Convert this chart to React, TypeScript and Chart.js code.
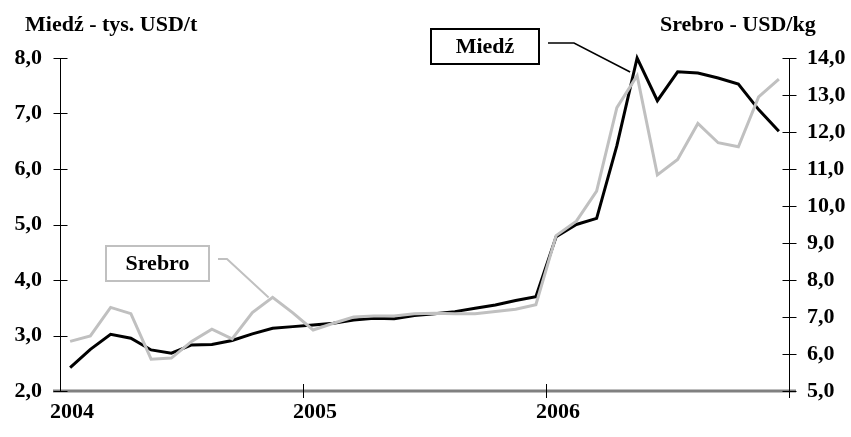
import React, { useEffect, useRef } from 'react';
import { Chart, registerables } from 'chart.js';

Chart.register(...registerables);

const FONT = '"Liberation Serif", "Times New Roman", Times, serif';

// monthly data Jan 2004 .. Dec 2006
const startYear = 2004;
const monthCount = 36;
const copper = [
  2.42, 2.75, 3.02, 2.95, 2.74, 2.68, 2.83, 2.84, 2.91, 3.03, 3.13, 3.16,
  3.19, 3.22, 3.28, 3.31, 3.30, 3.36, 3.39, 3.43, 3.49, 3.55, 3.63, 3.70,
  4.78, 5.00, 5.11, 6.42, 8.0, 7.23, 7.75, 7.73, 7.64, 7.53, 7.07, 6.68,
];
const silver = [
  6.34, 6.49, 7.26, 7.09, 5.86, 5.89, 6.34, 6.67, 6.41, 7.12, 7.53, 7.11,
  6.65, 6.83, 7.00, 7.03, 7.03, 7.09, 7.10, 7.09, 7.09, 7.15, 7.21, 7.33,
  9.20, 9.59, 10.40, 12.66, 13.52, 10.84, 11.26, 12.23, 11.71, 11.60, 12.95, 13.43,
];
const leftTitle = 'Miedź - tys. USD/t';
const rightTitle = 'Srebro - USD/kg';
const copperName = 'Miedź';
const silverName = 'Srebro';

const fmt = (v: number) => Number(v).toFixed(1).replace('.', ',');

const decorPlugin = {
  id: 'decor',
  beforeDatasetsDraw(chart: any) {
    const { ctx, chartArea: ca, scales } = chart;
    const xs = scales.x, yl = scales.y, yr = scales.y1;
    ctx.save();
    // x axis line
    ctx.strokeStyle = '#808080';
    ctx.lineWidth = 3;
    ctx.beginPath();
    ctx.moveTo(ca.left - 7, ca.bottom);
    ctx.lineTo(ca.right + 7, ca.bottom);
    ctx.stroke();
    // y axes
    ctx.strokeStyle = '#000';
    ctx.lineWidth = 1;
    const lx = Math.round(ca.left) + 0.5;
    const rx = Math.round(ca.right) + 0.5;
    ctx.beginPath();
    ctx.moveTo(lx, ca.top);
    ctx.lineTo(lx, ca.bottom + 1);
    ctx.moveTo(rx, ca.top);
    ctx.lineTo(rx, ca.bottom + 7);
    for (let v = 2; v <= 8; v++) {
      const y = Math.round(yl.getPixelForValue(v)) + 0.5;
      ctx.moveTo(lx - 7, y);
      ctx.lineTo(lx + 7, y);
    }
    for (let v = 5; v <= 14; v++) {
      const y = Math.round(yr.getPixelForValue(v)) + 0.5;
      ctx.moveTo(rx - 7, y);
      ctx.lineTo(rx + 7, y);
    }
    for (let m = 12; m < monthCount; m += 12) {
      const x = Math.round(xs.getPixelForValue(m)) + 0.5;
      ctx.moveTo(x, ca.bottom - 7);
      ctx.lineTo(x, ca.bottom + 7);
    }
    ctx.stroke();
    ctx.restore();
  },
  afterDraw(chart: any) {
    const { ctx, scales } = chart;
    const xs = scales.x, yl = scales.y, yr = scales.y1;
    ctx.save();
    ctx.font = `bold 22px ${FONT}`;
    ctx.fillStyle = '#000';
    ctx.textBaseline = 'alphabetic';
    ctx.textAlign = 'left';
    ctx.fillText(leftTitle, 25, 31);
    ctx.fillText(rightTitle, 660, 31);

    // copper legend box + callout
    const cpk = 28; // peak month index
    const cEndX = xs.getPixelForValue(cpk + 0.5) - 7;
    const cEndY = yl.getPixelForValue(copper[cpk]) + 14;
    const cb = { x: 431, y: 29, w: 108, h: 35 };
    ctx.fillStyle = '#fff';
    ctx.fillRect(cb.x, cb.y, cb.w, cb.h);
    ctx.strokeStyle = '#000';
    ctx.lineWidth = 2;
    ctx.strokeRect(cb.x, cb.y, cb.w, cb.h);
    ctx.fillStyle = '#000';
    ctx.textAlign = 'center';
    ctx.textBaseline = 'middle';
    ctx.fillText(copperName, cb.x + cb.w / 2, cb.y + cb.h / 2 + 1);
    ctx.lineWidth = 1.5;
    ctx.beginPath();
    ctx.moveTo(cb.x + cb.w + 9, cb.y + 14);
    ctx.lineTo(cb.x + cb.w + 35, cb.y + 14);
    ctx.lineTo(cEndX, cEndY);
    ctx.stroke();

    // silver legend box + callout
    const spk = 10;
    const sEndX = xs.getPixelForValue(spk + 0.5) - 4;
    const sEndY = yr.getPixelForValue(silver[spk]);
    const sb = { x: 106, y: 246, w: 103, h: 35 };
    ctx.fillStyle = '#fff';
    ctx.fillRect(sb.x, sb.y, sb.w, sb.h);
    ctx.strokeStyle = '#c0c0c0';
    ctx.lineWidth = 2;
    ctx.strokeRect(sb.x, sb.y, sb.w, sb.h);
    ctx.fillStyle = '#000';
    ctx.fillText(silverName, sb.x + sb.w / 2, sb.y + sb.h / 2 + 1);
    ctx.lineWidth = 2;
    ctx.beginPath();
    ctx.moveTo(sb.x + sb.w + 9, sb.y + 13);
    ctx.lineTo(sb.x + sb.w + 18, sb.y + 13);
    ctx.lineTo(sEndX, sEndY);
    ctx.stroke();
    ctx.restore();
  },
};

export default function App() {
  const ref = useRef<HTMLCanvasElement | null>(null);
  useEffect(() => {
    if (!ref.current) return;
    const tickFont = { family: FONT, size: 22, weight: 'bold' as const };
    const noGrid = { display: false, drawTicks: false };
    const chart = new Chart(ref.current, {
      type: 'line',
      data: {
        datasets: [
          {
            label: copperName,
            data: copper.map((v, i) => ({ x: i + 0.5, y: v })),
            yAxisID: 'y',
            borderColor: '#000',
            borderWidth: 3,
            pointRadius: 0,
            tension: 0,
            clip: false as any,
            order: 2,
          },
          {
            label: silverName,
            data: silver.map((v, i) => ({ x: i + 0.5, y: v })),
            yAxisID: 'y1',
            borderColor: '#c0c0c0',
            borderWidth: 3,
            pointRadius: 0,
            tension: 0,
            clip: false as any,
            order: 1,
          },
        ],
      },
      options: {
        responsive: false,
        animation: false,
        devicePixelRatio: 1,
        layout: { padding: { top: 58, left: 0, right: 0, bottom: 0 } },
        plugins: { legend: { display: false }, tooltip: { enabled: false } },
        scales: {
          x: {
            type: 'linear',
            min: 0,
            max: monthCount,
            afterFit: (s: any) => { s.height = 46; },
            grid: noGrid,
            border: { display: false },
            ticks: {
              stepSize: 12,
              autoSkip: false,
              maxRotation: 0,
              labelOffset: 12,
              padding: 8,
              color: '#000',
              font: tickFont,
              callback: (v: any) => (v < monthCount ? String(startYear + v / 12) : ''),
            },
          },
          y: {
            type: 'linear',
            position: 'left',
            min: 2,
            max: 8,
            afterFit: (s: any) => { s.width = 60; },
            grid: noGrid,
            border: { display: false },
            ticks: { stepSize: 1, padding: 18, color: '#000', font: tickFont, callback: (v: any) => fmt(v) },
          },
          y1: {
            type: 'linear',
            position: 'right',
            min: 5,
            max: 14,
            afterFit: (s: any) => { s.width = 62; },
            grid: noGrid,
            border: { display: false },
            ticks: { stepSize: 1, padding: 18, color: '#000', font: tickFont, callback: (v: any) => fmt(v) },
          },
        },
      },
      plugins: [decorPlugin],
    });
    return () => chart.destroy();
  }, []);
  return (
    <div style={{ position: 'absolute', left: 0, top: 0, width: 851, height: 437, background: '#fff' }}>
      <canvas ref={ref} width={851} height={437} />
    </div>
  );
}
